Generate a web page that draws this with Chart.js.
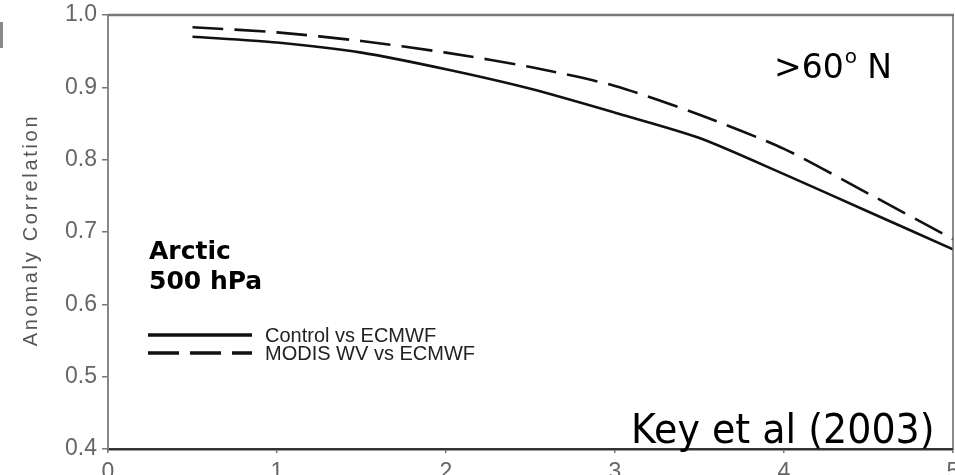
<!DOCTYPE html>
<html>
<head>
<meta charset="utf-8">
<script src="https://cdn.jsdelivr.net/npm/chart.js@4.4.1/dist/chart.umd.min.js"></script>
<style>
  html, body { margin: 0; padding: 0; background: #fff; }
  #wrap { width: 955px; height: 475px; position: relative; }
</style>
</head>
<body>
<div id="wrap"><canvas id="c" width="955" height="475"></canvas></div>
<script>
// Forecast lead time (days) and 500 hPa anomaly correlation
const leadDays  = [0.5, 1, 1.5, 2, 2.5, 3, 3.5, 4, 4.5, 5];
const controlAC = [0.970, 0.962, 0.948, 0.925, 0.898, 0.865, 0.830, 0.780, 0.728, 0.676];
const modisAC   = [0.983, 0.976, 0.964, 0.948, 0.928, 0.902, 0.862, 0.815, 0.753, 0.690];

const xTicks = [0, 1, 2, 3, 4, 5];
const yTicks = [0.4, 0.5, 0.6, 0.7, 0.8, 0.9, 1.0];

const seriesLabels = ['Control vs ECMWF', 'MODIS WV vs ECMWF'];
const yTitle = 'Anomaly Correlation';
const regionLines = ['Arctic', '500 hPa'];
const latitudeText = ['>60', 'o', ' N'];
const sourceText = 'Key et al (2003)';

const DASH = [31, 11];
const toPoints = ys => leadDays.map((x, i) => ({ x, y: ys[i] }));

const decorations = {
  id: 'decorations',
  afterDraw(chart) {
    const { ctx, chartArea: a } = chart;
    ctx.save();

    // frame: top and right edges
    ctx.strokeStyle = '#777';
    ctx.lineWidth = 2.5;
    ctx.beginPath(); ctx.moveTo(a.left, a.top); ctx.lineTo(a.right + 1, a.top); ctx.stroke();
    ctx.strokeStyle = '#666';
    ctx.lineWidth = 1.5;
    ctx.beginPath(); ctx.moveTo(a.right, a.top); ctx.lineTo(a.right, a.bottom); ctx.stroke();

    // y axis title, letter-spaced
    ctx.save();
    ctx.translate(37, (a.top + a.bottom) / 2 - 2);
    ctx.rotate(-Math.PI / 2);
    ctx.fillStyle = '#555';
    ctx.font = '20px "Liberation Sans", Arial, sans-serif';
    ctx.letterSpacing = '2.7px';
    ctx.textAlign = 'center';
    ctx.textBaseline = 'alphabetic';
    ctx.fillText(yTitle, 0, 0);
    ctx.restore();

    // region label
    ctx.fillStyle = '#000';
    ctx.font = 'bold 25px "DejaVu Sans", sans-serif';
    ctx.textAlign = 'left';
    ctx.textBaseline = 'alphabetic';
    ctx.fillText(regionLines[0], 149, 259);
    ctx.fillText(regionLines[1], 149, 289);

    // legend
    const ds = chart.data.datasets;
    const rows = [335, 353];
    ds.forEach((d, i) => {
      ctx.strokeStyle = d.borderColor;
      ctx.lineWidth = 3.4;
      ctx.setLineDash(d.borderDash || []);
      ctx.beginPath(); ctx.moveTo(148, rows[i]); ctx.lineTo(252, rows[i]); ctx.stroke();
      ctx.setLineDash([]);
      ctx.fillStyle = '#222';
      ctx.font = '20px "Liberation Sans", Arial, sans-serif';
      ctx.textBaseline = 'middle';
      ctx.fillText(d.label, 265, rows[i] + 1);
    });

    // latitude band
    ctx.textBaseline = 'alphabetic';
    ctx.fillStyle = '#000';
    ctx.font = '33px "DejaVu Sans", sans-serif';
    let x = 774;
    ctx.fillText(latitudeText[0], x, 78);
    x += ctx.measureText(latitudeText[0]).width + 1;
    ctx.font = '20px "DejaVu Sans", sans-serif';
    ctx.fillText(latitudeText[1], x, 63);
    x += ctx.measureText(latitudeText[1]).width;
    ctx.font = '33px "DejaVu Sans", sans-serif';
    ctx.fillText(latitudeText[2], x, 78);

    // source
    ctx.save();
    ctx.translate(631, 443);
    ctx.scale(1, 1.07);
    ctx.font = '38px "DejaVu Sans", sans-serif';
    ctx.fillText(sourceText, 0, 0);
    ctx.restore();

    // edge of neighbouring panel
    ctx.fillStyle = '#888';
    ctx.fillRect(0, 22, 3, 26);

    ctx.restore();
  }
};

new Chart(document.getElementById('c'), {
  type: 'line',
  data: {
    datasets: [
      {
        label: seriesLabels[0],
        data: toPoints(controlAC),
        borderColor: '#111',
        borderWidth: 2.6,
        pointRadius: 0,
        tension: 0.25
      },
      {
        label: seriesLabels[1],
        data: toPoints(modisAC),
        borderColor: '#111',
        borderWidth: 2.6,
        borderDash: DASH,
        pointRadius: 0,
        tension: 0.25
      }
    ]
  },
  options: {
    responsive: false,
    animation: false,
    layout: { padding: { top: 15, right: 2, left: 0, bottom: 0 } },
    plugins: { legend: { display: false }, tooltip: { enabled: false } },
    scales: {
      x: {
        type: 'linear',
        min: 0, max: 5,
        afterBuildTicks: s => { s.ticks = xTicks.map(v => ({ value: v })); },
        afterFit: s => { s.height = 26; s.paddingLeft = 0; s.paddingRight = 0; },
        ticks: {
          color: '#666',
          font: { family: '"Liberation Sans", Arial, sans-serif', size: 23 },
          padding: 6,
          maxRotation: 0,
          autoSkip: false
        },
        grid: { drawOnChartArea: false, drawTicks: true, tickLength: 4, color: '#777', lineWidth: 1.5 },
        border: { display: true, color: '#333', width: 2.5 }
      },
      y: {
        type: 'linear',
        min: 0.4, max: 1.0,
        afterBuildTicks: s => { s.ticks = yTicks.map(v => ({ value: v })); },
        afterFit: s => { s.width = 108; s.paddingTop = 0; s.paddingBottom = 0; },
        ticks: {
          color: '#666',
          font: { family: '"Liberation Sans", Arial, sans-serif', size: 23 },
          padding: 5,
          callback: v => v.toFixed(1)
        },
        grid: { drawOnChartArea: false, drawTicks: true, tickLength: 6, color: '#777', lineWidth: 1.5 },
        border: { display: true, color: '#888', width: 2 }
      }
    }
  },
  plugins: [decorations]
});
</script>
</body>
</html>
